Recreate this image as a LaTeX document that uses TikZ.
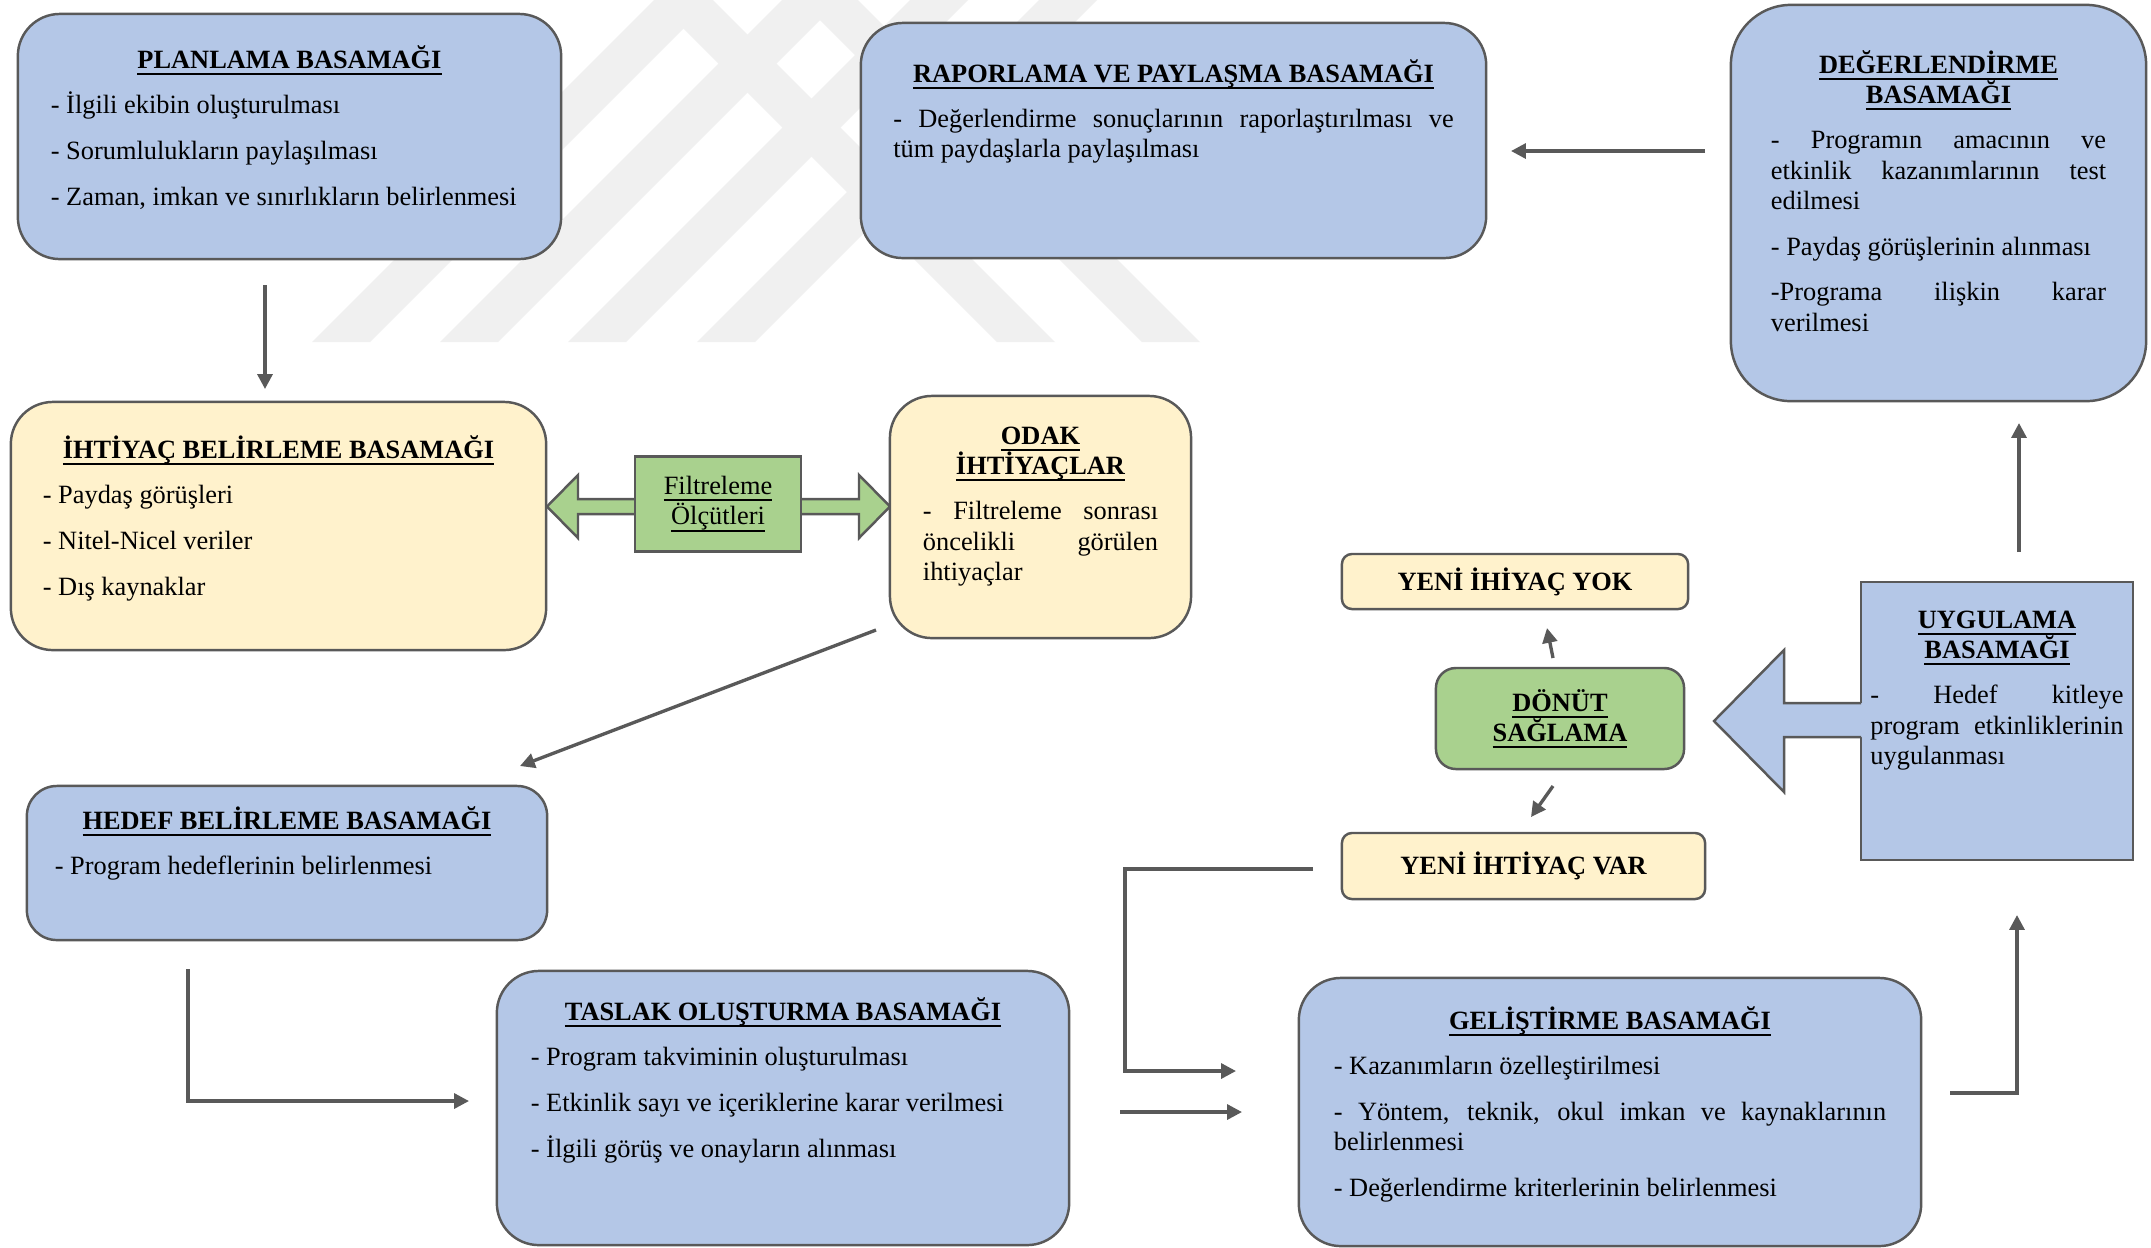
\documentclass[tikz,border=0pt]{standalone}
\usepackage{fontspec}
\setmainfont{Liberation Serif}
\usetikzlibrary{arrows.meta}

\definecolor{boxblue}{HTML}{B4C7E7}
\definecolor{boxyellow}{HTML}{FFF2CC}
\definecolor{boxgreen}{HTML}{A9D18E}
\definecolor{edgegray}{HTML}{595959}
\definecolor{markgray}{HTML}{F0F0F0}

\hyphenpenalty=10000
\exhyphenpenalty=10000

% underlined title text (a rule under a box)
\newsavebox{\ulbox}
\newcommand{\uline}[1]{\leavevmode\sbox{\ulbox}{#1}\rlap{\rule[-1.9pt]{\wd\ulbox}{0.6pt}}\usebox{\ulbox}}
\newcommand{\stagetitle}[1]{{\centering\bfseries #1\par}\vspace{4.4pt}}
\newcommand{\stepgap}{\par\vspace{4.4pt}}

\begin{document}
\begin{tikzpicture}[x=0.01cm, y=-0.01cm,
  edge/.style={draw=edgegray, line width=0.7pt},
  stage/.style={edge, rounded corners=0.42cm, inner sep=0pt},
  bluebox/.style={stage, fill=boxblue},
  yellowbox/.style={stage, fill=boxyellow},
  greenbox/.style={stage, fill=boxgreen},
  txt/.style={font=\fontsize{7.5}{8.6}\selectfont, align=justify, inner sep=0pt, anchor=base},
  conn/.style={draw=edgegray, line width=0.95pt, -{Triangle[length=4.2pt,width=4.2pt]}}]

\fill[white] (0,0) rectangle (2151,1247);
\useasboundingbox (0,0) rectangle (2151,1247);

%---------------------------------------
% Watermark stripes
%---------------------------------------
\foreach \b in {312,440,568,697}
  \fill[markgray] (\b,342) -- (\b+58,342) -- (\b+400,0) -- (\b+342,0) -- cycle;
\foreach \b in {997,1142}
  \fill[markgray] (\b,342) -- (\b+58,342) -- (\b-284,0) -- (\b-342,0) -- cycle;

%---------------------------------------
% Left column
%---------------------------------------
\node[bluebox, minimum width=5.43cm, minimum height=2.45cm] (plan) at (289.5,136.5) {};
\node[txt, text width=4.77cm] (plantxt) at (289.5,68) {\stagetitle{\uline{PLANLAMA BASAMAĞI}}
  - İlgili ekibin oluşturulması\stepgap
  - Sorumlulukların paylaşılması\stepgap
  - Zaman, imkan ve sınırlıkların belirlenmesi};

\node[yellowbox, minimum width=5.35cm, minimum height=2.48cm] (ihtiyac) at (278.5,526) {};
\node[txt, text width=4.71cm] (ihtiyactxt) at (278.5,458) {\stagetitle{\uline{İHTİYAÇ BELİRLEME BASAMAĞI}}
  - Paydaş görüşleri\stepgap
  - Nitel-Nicel veriler\stepgap
  - Dış kaynaklar};

% filter arrow (both ways) and its box
\filldraw[edge, fill=boxgreen] (547,506.5) -- (578,475) -- (578,499) -- (859,499) -- (859,475)
  -- (890,506.5) -- (859,538) -- (859,514) -- (578,514) -- (578,538) -- cycle;
\node[edge, fill=boxgreen, minimum width=1.66cm, minimum height=0.95cm, inner sep=0pt,
  font=\fontsize{7.5}{8.6}\selectfont, align=center] (filtre) at (718,504)
  {\uline{Filtreleme}\\\uline{Ölçütleri}};

\node[yellowbox, minimum width=3.01cm, minimum height=2.42cm] (odak) at (1040.5,517) {};
\node[txt, text width=2.35cm] (odaktxt) at (1040.5,444) {\stagetitle{\uline{ODAK}\\\uline{İHTİYAÇLAR}}
  - Filtreleme sonrası\linebreak öncelikli görülen\linebreak ihtiyaçlar};

\node[bluebox, rounded corners=0.3cm, minimum width=5.20cm, minimum height=1.54cm] (hedef) at (287,863) {};
\node[txt, text width=4.64cm] (hedeftxt) at (287,829) {\stagetitle{\uline{HEDEF BELİRLEME BASAMAĞI}}
  - Program hedeflerinin belirlenmesi};

\node[bluebox, minimum width=5.72cm, minimum height=2.74cm] (taslak) at (783,1108) {};
\node[txt, text width=5.04cm] (taslaktxt) at (783,1020) {\stagetitle{\uline{TASLAK OLUŞTURMA BASAMAĞI}}
  - Program takviminin oluşturulması\stepgap
  - Etkinlik sayı ve içeriklerine karar verilmesi\stepgap
  - İlgili görüş ve onayların alınması};

%---------------------------------------
% Right part
%---------------------------------------
\node[bluebox, minimum width=6.25cm, minimum height=2.35cm] (rapor) at (1173.5,140.5) {};
\node[txt, text width=5.60cm] (raportxt) at (1173.5,82) {\stagetitle{\uline{RAPORLAMA VE PAYLAŞMA BASAMAĞI}}
  - Değerlendirme sonuçlarının raporlaştırılması ve\linebreak tüm paydaşlarla paylaşılması};

\node[bluebox, rounded corners=0.6cm, minimum width=4.15cm, minimum height=3.96cm] (degerlendirme) at (1938.5,203) {};
\node[txt, text width=3.35cm] (degerlendirmetxt) at (1938.5,73) {\stagetitle{\uline{DEĞERLENDİRME}\\\uline{BASAMAĞI}}
  - Programın amacının ve\linebreak etkinlik kazanımlarının test\linebreak edilmesi\stepgap
  - Paydaş görüşlerinin alınması\stepgap
  -Programa ilişkin karar\linebreak verilmesi};

\node[edge, fill=boxblue, minimum width=2.72cm, minimum height=2.78cm, inner sep=0pt] (uygulama) at (1997,721) {};
% big arrow out of the implementation box
\fill[boxblue] (1863,703) -- (1784,703) -- (1784,650) -- (1714,721) -- (1784,792) -- (1784,737) -- (1863,737) -- cycle;
\draw[edge] (1861,703) -- (1784,703) -- (1784,650) -- (1714,721) -- (1784,792) -- (1784,737) -- (1861,737);
\node[txt, text width=2.53cm] (uygulamatxt) at (1997,628) {\stagetitle{\uline{UYGULAMA}\\\uline{BASAMAĞI}}
  - Hedef kitleye\linebreak program etkinliklerinin\linebreak uygulanması};

\node[greenbox, rounded corners=0.2cm, minimum width=2.48cm, minimum height=1.01cm,
  font=\fontsize{7.5}{8.6}\selectfont\bfseries, align=center] (donut) at (1560,718.5)
  {\uline{DÖNÜT}\\\uline{SAĞLAMA}};
\node[yellowbox, rounded corners=0.1cm, minimum width=3.46cm, minimum height=0.55cm,
  font=\fontsize{7.5}{8.6}\selectfont\bfseries] (yok) at (1515,581.5) {YENİ İHİYAÇ YOK};
\node[yellowbox, rounded corners=0.1cm, minimum width=3.63cm, minimum height=0.66cm,
  font=\fontsize{7.5}{8.6}\selectfont\bfseries] (var) at (1523.5,866) {YENİ İHTİYAÇ VAR};

\node[bluebox, minimum width=6.22cm, minimum height=2.68cm] (gelistirme) at (1610,1112) {};
\node[txt, text width=5.52cm] (gelistirmetxt) at (1610,1029) {\stagetitle{\uline{GELİŞTİRME BASAMAĞI}}
  - Kazanımların özelleştirilmesi\stepgap
  - Yöntem, teknik, okul imkan ve kaynaklarının\linebreak belirlenmesi\stepgap
  - Değerlendirme kriterlerinin belirlenmesi};

%---------------------------------------
% Connectors
%---------------------------------------
\coordinate (planout) at (265,285);
\coordinate (ihtiyacin) at (265,389);
\coordinate (odakout) at (876,630);
\coordinate (hedefin) at (520,766);
\coordinate (hedefout) at (188,969);
\coordinate (taslakin) at (469,1101);
\coordinate (taslakout) at (1120,1112);
\coordinate (gelistirmein) at (1242,1112);
\coordinate (varout) at (1313,869);
\coordinate (varbend) at (1125,869);
\coordinate (gelistirmetop) at (1236,1071);
\coordinate (gelistirmeout) at (1950,1093);
\coordinate (uygulamain) at (2017,915);
\coordinate (uygulamaout) at (2019,552);
\coordinate (degerlendirmein) at (2019,423);
\coordinate (degerlendirmeout) at (1705,151);
\coordinate (raporin) at (1511,151);
\coordinate (donutup) at (1553,658);
\coordinate (yokin) at (1547,628);
\coordinate (donutdown) at (1553,786);
\coordinate (varin) at (1531,817);

\draw[conn] (planout) -- (ihtiyacin);
\draw[conn] (odakout) -- (hedefin);
\draw[conn] (hedefout) |- (taslakin);
\draw[conn] (taslakout) -- (gelistirmein);
\draw[conn] (varout) -- (varbend) |- (gelistirmetop);
\draw[conn] (gelistirmeout) -| (uygulamain);
\draw[conn] (uygulamaout) -- (degerlendirmein);
\draw[conn] (degerlendirmeout) -- (raporin);
\draw[conn] (donutup) -- (yokin);
\draw[conn] (donutdown) -- (varin);

\end{tikzpicture}
\end{document}
